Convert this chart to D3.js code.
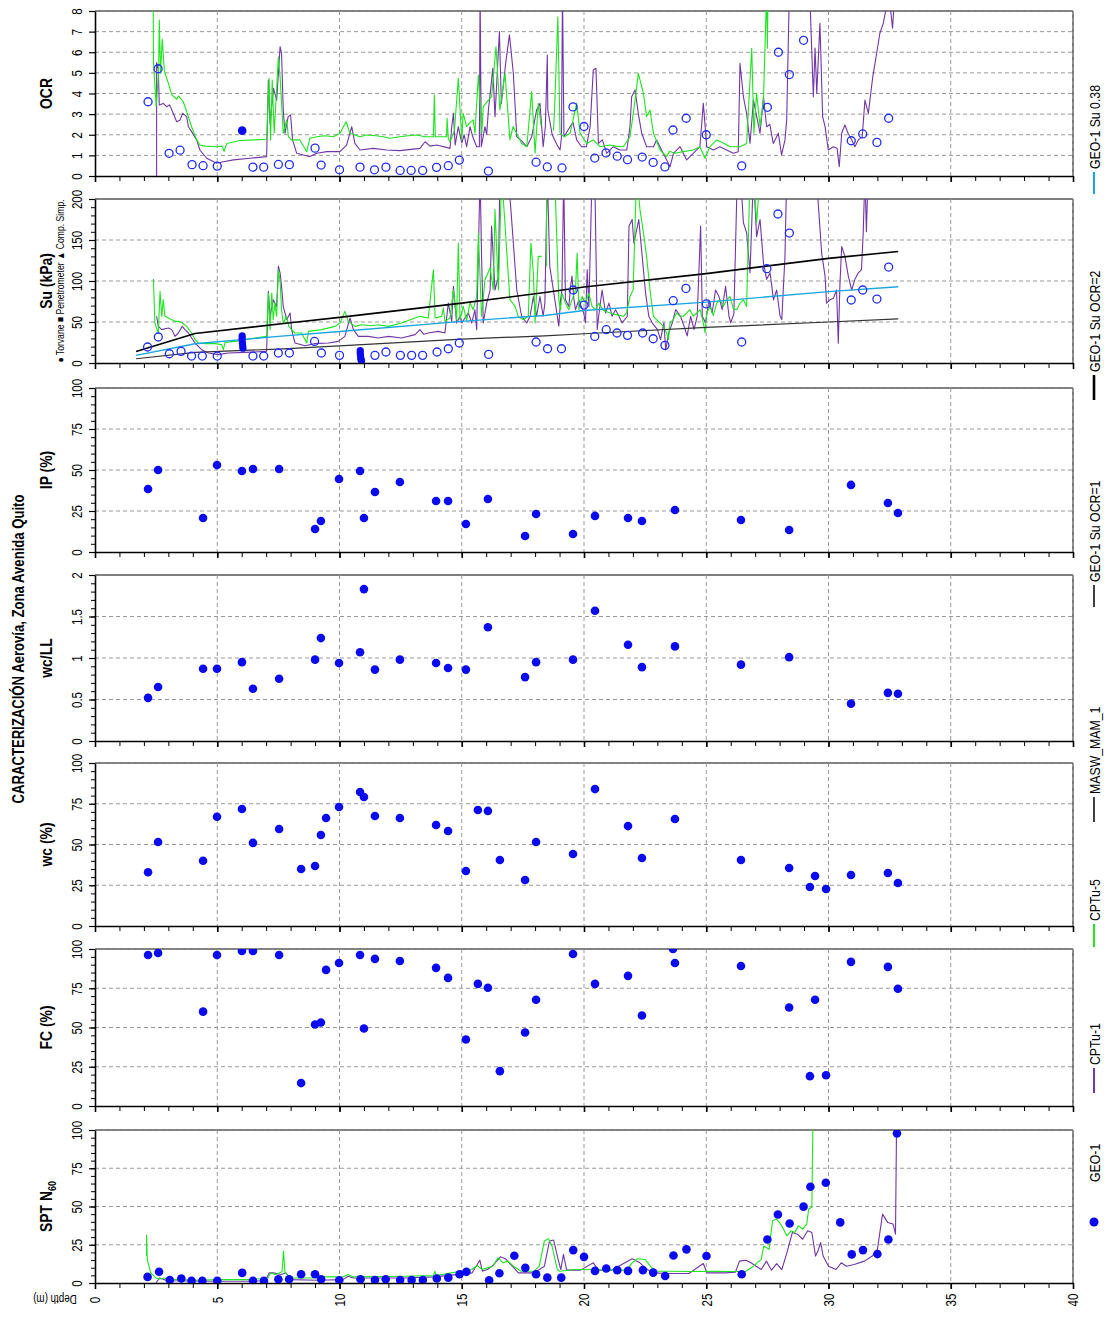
<!DOCTYPE html>
<html><head><meta charset="utf-8">
<script src="https://cdn.jsdelivr.net/npm/d3@7"></script>
<style>body{margin:0;background:#fff}</style>
</head><body><svg id="chart" width="1104" height="1321"></svg>
<script>
// ---------------- DATA ----------------
const depthMajorTicks = [0,5,10,15,20,25,30,35,40];
const depthMinorTicks = d3.range(0,41,1);

// GEO-1 laboratory data [depth (m), value]
const ocrGeo1 = [[2.17,3.6],[2.58,5.2],[3.03,1.1],[3.48,1.25],[3.97,0.55],[4.42,0.5],[5.0,0.48],[6.46,0.43],[6.9,0.43],[7.5,0.56],[7.95,0.55],[9.0,1.35],[9.25,0.53],[10.0,0.3],[10.84,0.43],[11.43,0.3],[11.9,0.43],[12.48,0.27],[12.93,0.27],[13.4,0.27],[13.97,0.42],[14.45,0.5],[14.9,0.77],[16.09,0.24],[18.04,0.67],[18.5,0.44],[19.1,0.39],[19.55,3.35],[20.0,2.4],[20.44,0.87],[20.9,1.12],[21.36,0.96],[21.78,0.79],[22.38,0.92],[22.83,0.66],[23.31,0.44],[23.64,2.23],[24.18,2.8],[25.0,2.0],[26.45,0.49],[27.5,3.33],[27.95,6.0],[28.4,4.92],[28.98,6.58],[30.93,1.71],[31.4,2.04],[31.98,1.63],[32.46,2.8]];
const ocrGeo1Filled = [[6.02,2.2]];

const suGeo1 = [[2.15,19.5],[2.59,31.7],[3.04,11.3],[3.52,14.2],[3.95,8.5],[4.39,8.5],[5.0,8.5],[6.46,8.5],[6.9,8.5],[7.5,12.2],[7.95,12.2],[8.98,26.3],[9.26,12.2],[10.0,9.3],[11.45,9.3],[11.9,13.4],[12.49,9.3],[12.95,9.3],[13.4,9.3],[13.99,13.4],[14.45,17.4],[14.9,24.4],[16.1,10.5],[18.04,25.6],[18.51,17.4],[19.08,17.4],[19.56,89],[20.0,70.7],[20.44,32.4],[20.91,40.6],[21.35,36.6],[21.78,33.7],[22.4,36.6],[22.83,29.6],[23.31,21.5],[23.65,76],[24.17,91],[25.0,72],[26.45,25.6],[27.48,115],[27.93,181.7],[28.4,158.5],[30.93,76.8],[31.4,89],[31.98,78],[32.46,117]];
const suGeo1Filled = [[6.02,33],[6.02,30],[6.02,27],[6.03,24],[6.04,21],[6.05,18],[10.85,15],[10.85,12],[10.86,9],[10.87,6],[10.88,4],[10.9,2.5]];

const suOcr2 = [[1.68,14],[4.09,36],[7.9,48.8],[10,55.6],[15,73],[18.4,86],[20,92.7],[25,109],[30,127.6],[32.85,136]];
const suRatio038 = [[1.68,9.3],[4.09,23.5],[7.5,32.5],[10,38.5],[15,50.8],[18.4,58],[20,64],[25,74.3],[30,87],[32.85,93]];
const suOcr1 = [[1.68,5.2],[4.09,13],[7.5,17],[10,21],[15,29],[18.4,33.2],[20,35.7],[25,43.5],[30,50],[32.85,53.7]];

const ipGeo1 = [[2.17,38.4],[2.58,50],[4.42,20.7],[4.99,53],[6.01,49.4],[6.46,50.6],[7.53,50.6],[9.0,14],[9.24,18.9],[9.98,44.5],[10.84,49.4],[11.0,20.7],[11.45,36.6],[12.47,42.7],[13.95,31.1],[14.44,31.1],[15.17,17.1],[16.07,32.3],[17.59,9.8],[18.04,23.2],[19.55,11],[20.45,22],[21.8,20.7],[22.37,18.9],[23.72,25.6],[26.42,19.5],[28.39,13.4],[30.92,40.9],[32.43,29.9],[32.84,23.8]];

const wcllGeo1 = [[2.17,0.52],[2.58,0.65],[4.42,0.87],[4.99,0.87],[6.01,0.95],[6.46,0.63],[7.53,0.75],[9.0,0.98],[9.24,1.24],[9.98,0.94],[10.84,1.07],[11.0,1.83],[11.45,0.86],[12.47,0.98],[13.95,0.94],[14.44,0.88],[15.17,0.86],[16.07,1.37],[17.59,0.77],[18.04,0.95],[19.55,0.98],[20.45,1.57],[21.8,1.16],[22.37,0.89],[23.72,1.14],[26.42,0.92],[28.39,1.01],[30.92,0.45],[32.43,0.58],[32.84,0.57]];

const wcGeo1 = [[2.17,33],[2.58,51.5],[4.42,40],[4.99,67],[6.01,71.8],[6.46,51],[7.53,59.5],[8.43,35],[9.0,36.8],[9.24,55.8],[9.45,66.3],[9.98,73],[10.84,82.2],[11.0,79.1],[11.45,67.5],[12.47,66.3],[13.95,62],[14.44,58.3],[15.17,33.7],[15.66,71.2],[16.07,70.6],[16.56,40.5],[17.59,28.2],[18.04,51.5],[19.55,44.2],[20.45,84],[21.8,61.3],[22.37,41.7],[23.72,65.6],[26.42,40.5],[28.39,35.6],[29.24,23.9],[29.45,30.7],[29.9,22.7],[30.92,31.3],[32.43,32.5],[32.84,26.4]];

const fcGeo1 = [[2.17,96.2],[2.58,97.5],[4.42,60.1],[4.99,96.2],[6.01,98.7],[6.46,98.7],[7.53,96.2],[8.43,14.6],[9.0,51.9],[9.24,53.2],[9.45,86.7],[9.98,91.1],[10.84,96.2],[11.0,49.4],[11.45,93.7],[12.47,92.4],[13.95,88],[14.44,81.6],[15.17,42.4],[15.66,77.8],[16.07,75.3],[16.56,22.2],[17.59,46.8],[18.04,67.7],[19.55,96.8],[20.45,77.8],[21.8,82.9],[22.37,57.6],[23.64,100],[23.72,91.1],[26.42,89.2],[28.39,62.7],[29.24,19],[29.45,67.7],[29.9,19.6],[30.92,91.8],[32.43,88.6],[32.84,74.7]];

const sptGeo1 = [[2.15,4.0],[2.62,7.3],[3.06,2.0],[3.53,2.9],[3.95,1.5],[4.39,1.5],[5.0,1.5],[6.02,6.6],[6.46,1.5],[6.91,1.5],[7.5,2.4],[7.94,2.4],[8.43,5.7],[9.0,5.7],[9.25,2.4],[9.99,1.8],[10.86,2.4],[11.45,2.0],[11.89,2.4],[12.48,2.0],[12.95,2.0],[13.41,2.0],[13.98,2.9],[14.45,3.5],[14.91,5.7],[15.19,7.3],[16.12,1.8],[16.54,6.4],[17.15,17.8],[17.6,9.9],[18.04,5.7],[18.5,3.5],[19.07,3.5],[19.56,21.5],[20.0,17.1],[20.45,7.9],[20.91,9.5],[21.36,8.4],[21.8,7.9],[22.41,8.4],[22.83,6.8],[23.32,4.6],[23.66,18.0],[24.19,22.0],[25.01,17.6],[26.45,5.7],[27.5,28.4],[27.93,44.8],[28.41,38.9],[28.98,49.9],[29.26,62.9],[29.89,65.5],[30.48,39.6],[30.95,18.7],[31.41,21.5],[32.0,18.9],[32.45,28.4],[32.8,97.8]];

// CPTu-5 (green) and CPTu-1 (purple) profiles [depth, value]; null = gap
const cptu5Ocr = [[2.38,9],[2.39,5.6],[2.5,3.4],[2.6,5.0],[2.63,7.56],[2.68,5.0],[2.75,6.63],[2.84,5.06],[3.0,4.5],[3.14,3.93],[3.34,3.72],[3.41,3.88],[3.61,3.6],[3.75,3.12],[3.95,2.39],[4.16,1.75],[4.29,1.5],[4.5,1.45],[4.98,1.42],[5.2,1.45],[5.28,1.2],[5.39,1.58],[5.93,1.72],[6.48,1.75],[7.02,1.78],[7.12,4.74],[7.18,1.75],[7.25,4.65],[7.33,2.1],[7.5,5.78],[7.57,4.81],[7.7,2.07],[7.84,2.72],[7.91,1.9],[8.04,1.75],[8.38,1.75],[8.66,1.18],[8.79,1.83],[9.07,1.9],[9.4,1.95],[9.75,1.9],[10.02,2.07],[10.27,2.63],[10.43,2.07],[10.84,1.9],[11.11,1.99],[11.5,1.95],[11.79,1.9],[12.07,1.83],[12.47,1.9],[12.8,1.95],[13.16,1.99],[13.5,1.9],[13.84,1.9],[13.88,3.93],[13.92,1.9],[14.38,1.9],[14.4,2.8],[14.45,1.8],[14.52,1.66],[14.7,2.2],[14.86,4.74],[15.0,1.75],[15.06,3.04],[15.2,2.39],[15.34,2.6],[15.47,2.72],[15.54,2.07],[15.68,4.9],[15.82,2.07],[15.88,3.36],[16.09,3.68],[16.22,3.84],[16.4,6.27],[16.56,3.2],[16.77,4.98],[16.97,1.75],[17.1,2.4],[17.24,2.07],[17.45,1.58],[17.66,1.42],[17.86,4.09],[18.0,1.1],[18.13,3.52],[18.25,2.4],[18.3,null],[18.75,2.2],[18.79,3.04],[18.93,7.72],[19.02,2.07],[19.2,1.9],[19.43,2.07],[19.7,3.52],[19.84,2.07],[20.11,1.58],[20.38,1.75],[20.65,1.42],[21.06,1.5],[21.3,1.45],[21.61,1.42],[21.88,1.9],[22.09,3.68],[22.22,4.98],[22.43,4.01],[22.56,2.88],[22.7,3.2],[22.84,2.07],[23.11,1.26],[23.38,0.94],[23.5,1.2],[23.7,1.1],[24.06,1.18],[24.47,1.26],[24.74,1.42],[24.95,0.86],[25.15,1.42],[25.43,1.75],[25.7,1.6],[25.97,1.42],[26.38,1.42],[26.65,1.58],[26.86,6.19],[26.95,2.07],[27.06,4.01],[27.2,2.4],[27.34,3.68],[27.47,9],[27.5,6.2],[27.53,9]];

const cptu1Ocr = [[2.52,0],[2.52,5.5],[2.59,5.14],[2.63,3.44],[2.79,3.52],[2.93,3.36],[3.05,3.45],[3.2,3.04],[3.34,2.63],[3.48,2.72],[3.59,3.04],[3.75,2.88],[3.82,2.39],[3.95,2.15],[4.16,1.75],[4.29,1.26],[4.57,0.86],[4.98,0.62],[5.25,0.69],[5.66,0.78],[6.34,0.86],[7.02,0.94],[7.09,4.65],[7.16,2.55],[7.3,4.25],[7.43,3.68],[7.57,6.27],[7.63,5.95],[7.7,3.2],[7.77,2.07],[7.9,2.88],[8.0,2.96],[8.08,1.75],[8.25,1.1],[8.52,1.02],[8.79,0.94],[9.07,1.1],[9.48,1.18],[10.02,1.18],[10.29,1.5],[10.5,2.39],[10.63,1.58],[10.84,1.26],[11.38,1.34],[11.93,1.26],[12.47,1.23],[13.29,1.34],[13.5,1.66],[13.7,1.45],[13.98,1.5],[14.52,1.34],[14.59,2.39],[14.66,3.04],[14.73,1.5],[14.86,2.39],[15.0,1.6],[15.1,2.0],[15.2,1.42],[15.34,2.39],[15.45,1.9],[15.61,1.42],[15.72,1.42],[15.75,9],[15.8,1.42],[15.95,2.39],[16.02,2.0],[16.09,3.2],[16.27,5.22],[16.36,2.88],[16.54,7.0],[16.62,3.5],[16.8,5.5],[16.95,6.84],[17.11,4.98],[17.25,1.9],[17.45,1.7],[17.66,1.42],[17.86,1.9],[18.06,3.2],[18.2,3.52],[18.33,1.42],[18.42,2.39],[18.5,5.87],[18.52,3.2],[18.7,2.0],[18.9,1.5],[19.02,1.26],[19.08,1.9],[19.12,9],[19.18,1.9],[19.43,2.39],[19.55,2.6],[19.7,1.75],[19.9,1.42],[20.1,1.42],[20.25,2.39],[20.38,5.14],[20.49,5.22],[20.59,1.58],[20.75,1.75],[20.93,1.1],[21.2,1.42],[21.47,1.26],[21.75,1.26],[21.88,2.39],[21.95,3.84],[22.09,4.17],[22.22,3.04],[22.36,2.07],[22.56,1.42],[22.84,1.42],[22.97,1.75],[23.24,1.1],[23.52,0.45],[23.66,1.1],[23.93,1.42],[24.2,0.78],[24.47,1.1],[24.74,1.42],[24.88,3.52],[25.02,1.42],[25.29,1.26],[25.56,1.42],[25.83,1.26],[26.11,1.1],[26.31,1.18],[26.38,5.46],[26.52,3.84],[26.65,3.04],[26.79,1.58],[26.93,3.68],[27.06,2.9],[27.2,2.07],[27.34,3.84],[27.47,2.39],[27.6,2.5],[27.74,1.58],[27.95,2.07],[28.08,1.02],[28.22,1.75],[28.29,2.72],[28.4,9],[29.2,10],[29.31,6.27],[29.38,3.84],[29.45,6.2],[29.52,4.0],[29.65,7.4],[29.76,2.88],[29.86,2.39],[29.99,1.26],[30.2,1.42],[30.35,1.35],[30.44,0.45],[30.54,2.07],[30.67,2.47],[30.8,2.07],[30.95,1.75],[31.08,1.42],[31.22,1.75],[31.38,1.9],[31.49,3.68],[31.63,3.04],[31.81,4.81],[31.97,5.95],[32.1,6.92],[32.24,7.4],[32.37,8.2],[32.5,8.5],[32.62,7.16],[32.72,9]];

const cptu5Su = [[2.39,102.4],[2.45,48.8],[2.59,36.6],[2.66,87.4],[2.73,56.9],[2.79,77.2],[2.86,56.9],[3.0,54.9],[3.27,50.8],[3.41,50.8],[3.57,48.8],[3.75,44.7],[3.95,36.6],[4.09,28.5],[4.23,24.4],[4.5,23.6],[4.91,23.6],[5.18,22.4],[5.25,16.3],[5.32,25.2],[5.73,26.4],[6.13,28.5],[6.54,30.5],[7.02,32.5],[7.09,85.4],[7.16,40.7],[7.23,85.4],[7.29,52.8],[7.36,73.2],[7.43,56.9],[7.5,113.8],[7.57,99.6],[7.63,65],[7.7,48.8],[7.84,56.9],[7.93,44.7],[8.04,40.7],[8.18,36.6],[8.45,36.6],[8.66,24.4],[8.73,38.6],[9.27,40.7],[9.82,44.7],[10.02,48.8],[10.22,63],[10.36,50.8],[10.63,44.7],[10.91,46.7],[11.3,45.5],[11.59,46.7],[12.0,44.7],[12.54,48.8],[13.09,54.9],[13.29,56.9],[13.63,54.9],[13.84,113.8],[13.91,54.9],[14.18,56.9],[14.25,67],[14.31,50.8],[14.52,54.9],[14.66,89.4],[14.79,52.8],[14.86,146.3],[14.93,52.8],[15.06,69.1],[15.2,52],[15.34,73.2],[15.47,65],[15.61,81.3],[15.68,158.5],[15.81,56.9],[15.95,101.6],[16.16,115.9],[16.29,89.4],[16.36,187],[16.5,89.4],[16.63,230],[16.77,168.7],[16.97,77.2],[17.18,69.1],[17.31,56.9],[17.52,52.8],[17.72,56.9],[17.83,146.3],[17.93,109.8],[18.0,48.8],[18.13,130],[18.27,130],[18.33,null],[18.47,230],[18.47,118],[18.5,null],[18.8,230],[18.97,77],[19.04,65],[19.1,85],[19.24,73],[19.38,65],[19.51,77],[19.65,89],[19.72,134],[19.79,65],[19.92,81],[20.06,73],[20.2,85],[20.33,69],[20.47,65],[20.6,73],[20.8,64],[21.06,61],[21.33,59],[21.61,57],[21.74,61],[21.88,81],[22.01,89],[22.15,230],[22.29,187],[22.43,159],[22.56,130],[22.7,89],[22.84,57],[22.97,53],[23.11,49],[23.24,45],[23.38,37],[23.45,28.5],[23.52,49],[23.65,53],[23.79,61],[23.92,57],[24.06,57],[24.2,61],[24.33,65],[24.47,57],[24.61,61],[24.75,65],[24.88,49],[24.95,37],[25.02,61],[25.15,69],[25.29,58],[25.43,73],[25.56,77],[25.7,69],[25.84,77],[25.97,81],[26.11,66],[26.25,65],[26.38,73],[26.52,77],[26.65,69],[26.79,230],[26.93,230],[27.06,171],[27.2,230]];

const cptu1Su = [[2.52,57],[2.59,44.7],[2.73,40.7],[3.0,42.7],[3.14,40.7],[3.27,32.5],[3.41,36.6],[3.57,44.7],[3.68,40.7],[3.82,36.6],[4.09,24.4],[4.36,16.3],[4.64,12.2],[5.04,10.2],[5.45,12.2],[6.13,13],[7.02,14.2],[7.09,87.4],[7.16,57],[7.29,77],[7.43,69],[7.5,118],[7.57,110],[7.63,93.5],[7.7,69],[7.84,52.8],[7.98,61],[8.04,40.7],[8.18,24.4],[8.59,21],[9.0,23.6],[9.54,24.4],[9.95,26.4],[10.22,32.5],[10.43,54.9],[10.57,40.7],[10.77,32.5],[11.18,32.5],[11.59,30.5],[12.0,32.5],[12.54,30.5],[13.09,34.6],[13.29,40.7],[13.45,35],[13.63,36.6],[14.04,38.6],[14.31,36.6],[14.45,73],[14.59,50.8],[14.66,93.5],[14.79,48.8],[14.93,57],[15.0,48.8],[15.13,54.9],[15.27,61],[15.41,48.8],[15.54,65],[15.61,40.7],[15.75,230],[15.81,130],[15.88,48.8],[16.02,73],[16.16,89],[16.22,167],[16.36,89],[16.5,106],[16.56,230],[16.9,230],[17.04,175],[17.25,89],[17.45,57],[17.66,48.8],[17.79,57],[17.93,81],[18.06,57],[18.2,81],[18.33,57],[18.4,73],[18.5,230],[18.6,118],[18.97,45],[19.04,77],[19.1,89],[19.17,230],[19.24,77],[19.38,69],[19.45,93.5],[19.51,106],[19.58,80],[19.65,65],[19.79,77],[19.88,70],[19.99,61],[20.06,49],[20.13,114],[20.2,69],[20.33,230],[20.44,230],[20.54,41],[20.6,57],[20.74,89],[20.88,61],[21.02,73],[21.15,57],[21.29,65],[21.43,57],[21.56,49],[21.77,57],[21.84,167],[21.97,175],[22.04,146],[22.24,175],[22.38,130],[22.52,85],[22.65,57],[22.79,49],[23.0,41],[23.13,28.5],[23.27,49],[23.34,16],[23.47,37],[23.61,49],[23.75,65],[23.95,57],[24.09,45],[24.22,33],[24.36,57],[24.5,41],[24.63,57],[24.77,167],[24.84,57],[24.97,49],[25.11,77],[25.24,61],[25.38,89],[25.52,81],[25.65,65],[25.79,93.5],[25.93,57],[26.0,49],[26.13,60],[26.27,230],[26.4,230],[26.52,171],[26.65,159],[26.79,110],[26.93,230],[27.06,154],[27.2,175],[27.34,122],[27.47,102],[27.61,110],[27.75,77],[27.88,89],[28.02,57],[28.09,53],[28.15,89],[28.22,130],[28.29,230],[29.5,230],[29.72,134],[29.86,106],[29.92,73],[30.06,77],[30.2,79],[30.33,89],[30.4,24],[30.47,98],[30.54,142],[30.67,130],[30.81,106],[30.95,89],[31.08,102],[31.22,110],[31.35,114],[31.42,159],[31.49,230],[31.55,160],[31.62,230],[32.7,230]];

const cptu5Spt = [[2.11,17.6],[2.11,31.4],[2.14,15],[2.28,6.6],[2.49,3.3],[2.64,2.6],[2.85,3.3],[2.96,2.2],[3.38,2.2],[4.22,1.8],[5.0,2.2],[6.34,2.2],[7.08,3.3],[7.18,6.6],[7.39,5.5],[7.65,7.3],[7.71,20.9],[7.77,6.6],[8.03,3.3],[8.87,3.3],[9.29,4.0],[10.14,4.0],[10.35,5.5],[10.56,4.0],[12.67,4.4],[13.84,4.8],[13.9,7.7],[13.95,4.9],[14.58,6.6],[15.0,7.7],[15.42,8.8],[15.63,11.4],[15.84,8.8],[16.05,9.9],[16.27,11.0],[16.48,16.5],[16.69,13.2],[16.9,14.3],[17.11,11.0],[17.43,7.7],[17.96,7.7],[18.17,11.0],[18.38,27.5],[18.55,29.0],[18.69,24.2],[18.91,8.8],[19.01,7.7],[19.65,8.8],[20.28,8.8],[21.12,8.4],[21.75,8.4],[21.97,13.2],[22.18,15.8],[22.5,15.4],[22.71,11.0],[22.92,7.7],[23.45,7.7],[24.29,7.5],[25.35,7.7],[26.19,7.5],[26.62,7.7],[26.93,11.0],[27.25,15.4],[27.35,24.2],[27.57,22.0],[27.71,40.7],[27.88,41.8],[28.09,37.4],[28.3,30.8],[28.47,34.1],[28.62,33.0],[28.77,37.4],[28.94,35.2],[29.11,38.5],[29.19,48.4],[29.32,49.5],[29.36,102]];

const cptu1Spt = [[2.49,0],[2.64,3.3],[2.96,1.5],[5.0,1.1],[6.34,1.2],[6.97,1.5],[7.12,6.6],[7.29,6.6],[7.6,5.5],[7.81,6.6],[8.03,2.2],[9.08,1.8],[10.14,2.2],[10.35,4.4],[10.56,3.3],[12.67,3.3],[13.84,4.0],[14.79,5.5],[15.42,6.6],[15.74,14.9],[15.84,7.7],[16.05,8.8],[16.27,11.4],[16.58,17.1],[16.79,15.8],[17.0,12.1],[17.32,6.6],[17.96,6.6],[18.38,11.0],[18.59,27.5],[18.76,28.1],[18.91,17.6],[19.05,8.8],[19.16,18.7],[19.29,8.4],[19.86,8.4],[20.38,13.2],[20.6,8.4],[21.12,8.4],[21.97,15.8],[22.29,13.2],[22.5,9.9],[22.81,6.6],[23.45,6.2],[24.29,6.2],[24.88,12.7],[25.03,6.6],[25.77,6.6],[26.19,7.0],[26.36,14.3],[26.62,14.9],[26.83,13.2],[27.04,11.0],[27.25,8.8],[27.46,14.3],[27.67,8.4],[27.88,12.7],[28.09,8.8],[28.3,19.8],[28.52,33.0],[28.73,31.9],[28.94,28.6],[29.15,34.1],[29.32,33.0],[29.47,17.6],[29.57,20.9],[29.68,26.4],[29.78,17.6],[30.0,11.0],[30.31,8.8],[30.52,13.2],[30.74,11.0],[31.05,12.1],[31.47,14.3],[31.79,17.6],[32.0,22.0],[32.21,45.0],[32.42,39.6],[32.64,38.5],[32.74,31.9],[32.78,97.8],[32.8,102]];

const legendLabels = ["GEO-1 Su 0.38","GEO-1 Su OCR=2","GEO-1 Su OCR=1","MASW_MAM_1","CPTu-5","CPTu-1","GEO-1"];
const titleText = "CARACTERIZACIÓN Aerovía, Zona Avenida Quito";

// ---------------- STYLE / LAYOUT ----------------
const C = {green:"#1ee61e", purple:"#7236a6", blue:"#0a0af0", sky:"#19a6e4", grid:"#9a9a9a"};

function fontAvailable(name){
  const ctx=document.createElement('canvas').getContext('2d');
  const s='abcdefghijklmnopqrstuvwxyzABCDEFGHIJ0123456789';
  ctx.font='40px monospace'; const a=ctx.measureText(s).width;
  ctx.font='40px "'+name+'", monospace'; const b=ctx.measureText(s).width;
  return Math.abs(a-b)>0.5;
}
const NARROW = fontAvailable('Liberation Sans Narrow');
const FAM = NARROW ? '"Liberation Sans Narrow","Liberation Sans",Arial,sans-serif' : '"Liberation Sans",Arial,sans-serif';
const SX = NARROW ? 1 : 0.82;

const svg = d3.select('#chart').attr('font-family', FAM);
const x = d3.scaleLinear().domain([0,40]).range([95,1073]);
const X0 = 95, X1 = 1073;

const panels = [
  {id:'ocr', top:11, bottom:176, domain:[0,8], major:d3.range(0,9), minor:[], grid:d3.range(1,9), topDash:true, title:'OCR'},
  {id:'su', top:199, bottom:363, domain:[0,200], major:[0,50,100,150,200], minor:d3.range(0,201,10), grid:[50,100,150], topDash:false, title:'Su (kPa)'},
  {id:'ip', top:388, bottom:552, domain:[0,100], major:[0,25,50,75,100], minor:d3.range(0,101,5), grid:[25,50,75,100], topDash:true, title:'IP (%)'},
  {id:'wcll', top:575, bottom:741, domain:[0,2], major:[0,0.5,1,1.5,2], minor:d3.range(0,2.01,0.1), grid:[0.5,1,1.5], topDash:false, title:'wc/LL'},
  {id:'wc', top:763, bottom:926, domain:[0,100], major:[0,25,50,75,100], minor:d3.range(0,101,5), grid:[25,50,75,100], topDash:true, title:'wc (%)'},
  {id:'fc', top:949, bottom:1106, domain:[0,100], major:[0,25,50,75,100], minor:d3.range(0,101,5), grid:[25,50,75,100], topDash:true, title:'FC (%)'},
  {id:'spt', top:1130, bottom:1283, domain:[0,100], major:[0,25,50,75,100], minor:d3.range(0,101,5), grid:[25,50,75,100], topDash:true, title:'SPT N'}
];

function rotText(parent, px, py, str, size, weight, anchor, angle){
  return parent.append('text')
    .attr('transform', `translate(${px},${py}) rotate(${angle===undefined?-90:angle}) scale(${SX},1)`)
    .attr('text-anchor', anchor||'middle')
    .attr('font-size', size).attr('font-weight', weight||'normal')
    .attr('fill','#000').text(str);
}

const P = {};
panels.forEach((p,i)=>{
  const y = d3.scaleLinear().domain(p.domain).range([p.bottom, p.top]);
  const g = svg.append('g').attr('class','panel-'+p.id);
  P[p.id] = {y, g, p};
  svg.append('clipPath').attr('id','clip-'+p.id).append('rect')
    .attr('x',X0).attr('y',p.top).attr('width',X1-X0).attr('height',p.bottom-p.top);
  g.append('line').attr('x1',X0).attr('x2',X1).attr('y1',p.top).attr('y2',p.top).attr('stroke','#000').attr('stroke-width',1.2);
  g.append('line').attr('x1',X1).attr('x2',X1).attr('y1',p.top).attr('y2',p.bottom).attr('stroke','#222').attr('stroke-width',1.2);
  g.selectAll('.vg').data([5,10,15,20,25,30,35,40]).join('line')
    .attr('x1',d=>x(d)).attr('x2',d=>x(d)).attr('y1',p.top).attr('y2',p.bottom)
    .attr('stroke',C.grid).attr('stroke-width',d=>d===40?1.4:1).attr('stroke-dasharray','4,3');
  g.selectAll('.hg').data(p.grid.filter(v=>v<p.domain[1] || p.topDash)).join('line')
    .attr('x1',X0).attr('x2',X1).attr('y1',d=>y(d)).attr('y2',d=>y(d))
    .attr('stroke',d=>d===p.domain[1]?'#888':C.grid).attr('stroke-width',d=>d===p.domain[1]?1.6:1).attr('stroke-dasharray','4,3');
  P[p.id].data = svg.append('g').attr('clip-path',`url(#clip-${p.id})`);
});

// ---------------- MARKS ----------------
const lineGen = (y)=> d3.line().defined(d=>d[1]!==null).x(d=>x(d[0])).y(d=>y(d[1]));
function drawLine(id, data, color, w){
  P[id].data.append('path').datum(data).attr('d', lineGen(P[id].y))
    .attr('fill','none').attr('stroke',color).attr('stroke-width',w).attr('stroke-linejoin','round');
}
function drawDots(id, data, r){
  P[id].data.append('g').selectAll('circle').data(data).join('circle')
    .attr('cx',d=>x(d[0])).attr('cy',d=>P[id].y(d[1])).attr('r',r).attr('fill',C.blue);
}
function drawOpen(id, data, r){
  P[id].data.append('g').selectAll('circle').data(data).join('circle')
    .attr('cx',d=>x(d[0])).attr('cy',d=>P[id].y(d[1])).attr('r',r)
    .attr('fill','none').attr('stroke','#1f2cff').attr('stroke-width',1.3);
}

drawLine('ocr', cptu1Ocr, C.purple, 1.1);
drawLine('ocr', cptu5Ocr, C.green, 1.1);
drawOpen('ocr', ocrGeo1, 4);
drawDots('ocr', ocrGeo1Filled, 4.3);

drawLine('su', cptu1Su, C.purple, 1.1);
drawLine('su', cptu5Su, C.green, 1.1);
drawLine('su', suOcr1, '#333', 1.2);
drawLine('su', suRatio038, C.sky, 1.4);
drawLine('su', suOcr2, '#000', 1.6);
drawOpen('su', suGeo1, 4);
drawDots('su', suGeo1Filled, 3.6);

drawDots('ip', ipGeo1, 4.3);
drawDots('wcll', wcllGeo1, 4.3);
drawDots('wc', wcGeo1, 4.3);
drawDots('fc', fcGeo1, 4.3);

drawLine('spt', cptu1Spt, C.purple, 1.1);
drawLine('spt', cptu5Spt, C.green, 1.1);
drawDots('spt', sptGeo1, 4.3);

// ---------------- AXES ----------------
panels.forEach((p,i)=>{
  const {y,g} = P[p.id];
  if (p.minor.length){
    g.append('g').attr('transform',`translate(${X0},0)`)
      .call(d3.axisLeft(y).tickValues(p.minor).tickSize(4).tickSizeOuter(0).tickFormat(''))
      .call(a=>a.select('.domain').remove())
      .call(a=>a.selectAll('line').attr('stroke','#000').attr('stroke-width',1));
  }
  const la = g.append('g').attr('transform',`translate(${X0},0)`)
    .call(d3.axisLeft(y).tickValues(p.major).tickSize(6).tickSizeOuter(0).tickFormat(d3.format('')));
  la.select('.domain').attr('stroke','#000').attr('stroke-width',1.6);
  la.selectAll('line').attr('stroke','#000').attr('stroke-width',1.2);
  la.selectAll('text').attr('x',null).attr('dy',null)
    .attr('transform',`translate(-13,0) rotate(-90) scale(${SX},1)`)
    .attr('text-anchor','middle').attr('font-size',14).attr('font-family',FAM).attr('fill','#000');
  const ba = g.append('g').attr('transform',`translate(0,${p.bottom})`)
    .call(d3.axisBottom(x).tickValues(depthMinorTicks).tickSize(5).tickSizeOuter(0).tickFormat(''));
  ba.select('.domain').attr('stroke','#000').attr('stroke-width',1.6);
  ba.selectAll('line').attr('stroke','#000').attr('stroke-width',1);
  const bm = g.append('g').attr('transform',`translate(0,${p.bottom})`)
    .call(d3.axisBottom(x).tickValues(depthMajorTicks).tickSize(6).tickSizeOuter(0)
      .tickFormat(i===panels.length-1 ? d3.format('d') : ''));
  bm.select('.domain').remove();
  bm.selectAll('line').attr('stroke','#000').attr('stroke-width',1.6);
  bm.selectAll('text').attr('y',null).attr('dy','0.35em')
    .attr('transform',`translate(0,17) rotate(-90) scale(${SX},1)`)
    .attr('text-anchor','middle').attr('font-size',14).attr('font-family',FAM).attr('fill','#000');

  const cy = (p.top+p.bottom)/2;
  if (p.id==='spt'){
    const t = rotText(svg, 52, cy, '', 17, 'bold', 'middle');
    t.append('tspan').text('SPT N');
    t.append('tspan').attr('font-size',11).attr('dy',4).text('60');
  } else {
    rotText(svg, 52, cy, p.title, 17, 'bold', 'middle');
  }
  if (p.id==='su'){
    rotText(svg, 63.5, cy, '● Torvane ■ Penetrometer ▲ Comp. Simp.', 10.5, 'normal', 'middle');
  }
});

rotText(svg, 24, 649, titleText, 16, 'bold', 'middle');
rotText(svg, 55, 1299, 'Depth (m)', 12, 'normal', 'middle', 180).attr('dy','0.35em');

// ---------------- LEGEND ----------------
const legendItems = [
  {label:legendLabels[0], kind:'line', color:C.sky, w:2, s:172, e:194},
  {label:legendLabels[1], kind:'line', color:'#000', w:2.6, s:375, e:400},
  {label:legendLabels[2], kind:'line', color:'#000', w:1.5, s:585, e:607},
  {label:legendLabels[3], kind:'line', color:'#000', w:1.5, s:797, e:822},
  {label:legendLabels[4], kind:'line', color:C.green, w:2, s:924, e:947},
  {label:legendLabels[5], kind:'line', color:C.purple, w:2, s:1068, e:1093},
  {label:legendLabels[6], kind:'dot', color:C.blue, s:1190, e:1222}
];
const lg = svg.append('g');
legendItems.forEach(it=>{
  if (it.kind==='line'){
    lg.append('line').attr('x1',1094).attr('x2',1094).attr('y1',it.s).attr('y2',it.e)
      .attr('stroke',it.color).attr('stroke-width',it.w);
    rotText(lg, 1100, it.s-3, it.label, 15, 'normal', 'start');
  } else {
    lg.append('circle').attr('cx',1094).attr('cy',it.e).attr('r',4.5).attr('fill',it.color);
    rotText(lg, 1100, it.s-8, it.label, 15, 'normal', 'start');
  }
});
</script></body></html>
